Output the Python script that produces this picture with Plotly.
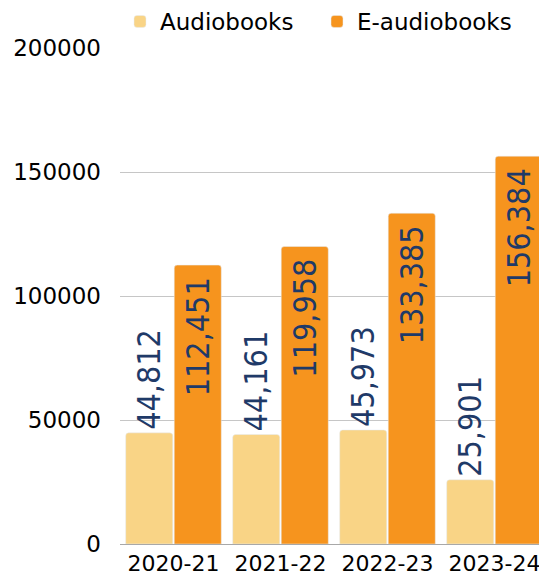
import plotly.graph_objects as go

years = ["2020-21", "2021-22", "2022-23", "2023-24"]
audiobooks = [44812, 44161, 45973, 25901]
e_audiobooks = [112451, 119958, 133385, 156384]

light = "#F9D486"
orange = "#F6941E"
navy = "#1F3A68"
label_font = dict(family="DejaVu Sans Condensed, Roboto", size=32, color=navy)

fig = go.Figure()

fig.add_trace(go.Bar(
    name="Audiobooks",
    x=years,
    y=audiobooks,
    marker=dict(color=light, cornerradius=3),
    texttemplate="%{y:,}",
    textposition="outside",
    textangle=-90,
    textfont=label_font,
    constraintext="none",
    cliponaxis=False,
))

fig.add_trace(go.Bar(
    name="E-audiobooks",
    x=years,
    y=e_audiobooks,
    marker=dict(color=orange, cornerradius=3),
    texttemplate="%{y:,}\u00a0",
    textposition="inside",
    insidetextanchor="end",
    textangle=-90,
    textfont=label_font,
    constraintext="none",
))

fig.update_layout(
    width=539,
    height=580,
    margin=dict(l=120, r=0, t=48, b=36),
    paper_bgcolor="white",
    plot_bgcolor="white",
    barmode="group",
    bargap=0.093,
    bargroupgap=0.03,
    uniformtext=dict(minsize=32, mode="show"),
    font=dict(family="DejaVu Sans", size=23, color="black"),
    legend=dict(
        orientation="h",
        xref="paper", x=0.0, xanchor="left",
        yref="container", y=1.0, yanchor="top",
        entrywidth=152,
        font=dict(size=23),
        bgcolor="rgba(0,0,0,0)",
    ),
    showlegend=True,
)

fig.update_xaxes(
    range=[-0.5, 3.416],
    showgrid=False,
    ticks="",
    ticklabelstandoff=4,
    tickfont=dict(size=22),
    automargin=False,
)

fig.update_yaxes(
    range=[0, 200000],
    tickvals=[0, 50000, 100000, 150000, 200000],
    tickformat="d",
    showgrid=True,
    gridcolor="#C6C6C6",
    gridwidth=1,
    zeroline=True,
    zerolinecolor="#A8A8A8",
    zerolinewidth=1,
    ticks="",
    ticklabelstandoff=18,
    tickfont=dict(size=23),
    automargin=False,
)

# the browser adds an 8px body margin by default; drop it so the chart sits at the page corner
fig.write_html(
    "out.html",
    config={"displayModeBar": False},
    post_script="document.body.style.margin='0';",
)
